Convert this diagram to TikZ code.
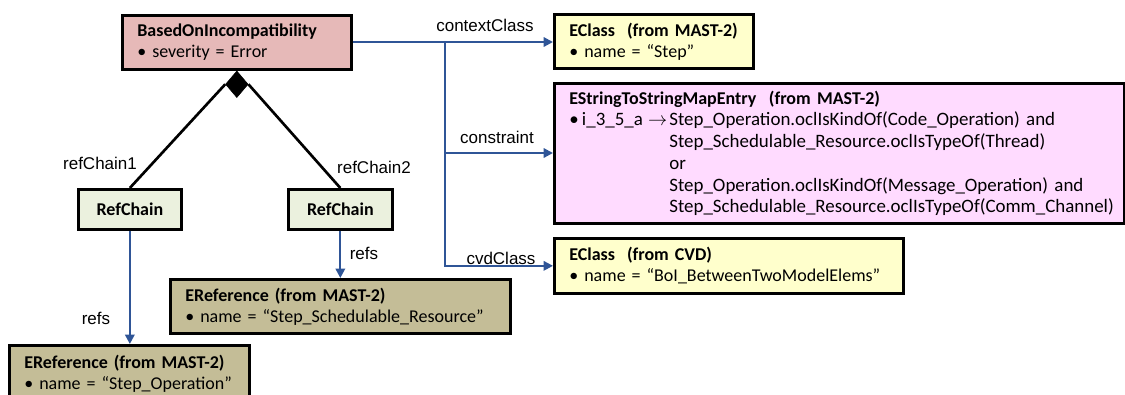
\documentclass[tikz,border=0pt]{standalone}
\usepackage{fontspec}
\setmainfont{Carlito}
\newfontfamily\labelfont{Liberation Sans}
\usetikzlibrary{shapes.geometric,arrows.meta}
\definecolor{boifill}{HTML}{E6B9B8}
\definecolor{ecfill}{HTML}{FFFFCC}
\definecolor{pinkfill}{HTML}{FFDBFF}
\definecolor{rcfill}{HTML}{EBF1DE}
\definecolor{erfill}{HTML}{C4BD97}
\definecolor{assocblue}{HTML}{2F5597}
\tikzset{
  classbox/.style={draw=black, line width=2pt, rectangle, anchor=north west,
    inner xsep=11.25pt, inner ysep=0pt, align=left,
    font=\fontsize{13.5}{15.75}\selectfont},
  chainbox/.style={draw=black, line width=2pt, rectangle, anchor=north west,
    fill=rcfill, inner sep=0pt, minimum height=30pt,
    font=\fontsize{13.5}{15.75}\selectfont\bfseries},
  assoc/.style={draw=assocblue, line width=1.6pt, -{Triangle[length=7pt,width=7pt]}},
  compline/.style={draw=black, line width=2pt},
  lbl/.style={inner sep=0pt, font=\labelfont\fontsize{12.75}{15}\selectfont}
}
\begin{document}
\begin{tikzpicture}[x=0.75pt,y=-0.75pt]
\useasboundingbox (0,0) rectangle (1125,394);
% class boxes
\node[classbox, fill=boifill, text width=149.25pt, minimum height=40.5pt] (boi) at (121,14)
  {\textbf{BasedOnIncompatibility}\\• severity = Error};
\node[classbox, fill=ecfill, text width=126.75pt, minimum height=40.5pt] (ecM) at (553,13)
  {\textbf{EClass\ \ (from MAST-2)}\\• name = “Step”};
\node[classbox, fill=pinkfill, text width=405pt, minimum height=105pt,
      font=\fontsize{14.2}{16.3}\selectfont] (pink) at (553,82)
  {{\fontsize{13.5}{16.3}\selectfont\textbf{EStringToStringMapEntry\ \ (from MAST-2)}}\\
   \makebox[75pt][l]{\makebox[9.5pt][l]{•}i\_3\_5\_a\hfill$\rightarrow$\hspace{1.5pt}}Step\_Operation.oclIsKindOf(Code\_Operation) and\\
   \hspace*{75pt}Step\_Schedulable\_Resource.oclIsTypeOf(Thread)\\
   \hspace*{75pt}or\\
   \hspace*{75pt}Step\_Operation.oclIsKindOf(Message\_Operation) and\\
   \hspace*{75pt}Step\_Schedulable\_Resource.oclIsTypeOf(Comm\_Channel)};
\node[classbox, fill=ecfill, text width=239.25pt, minimum height=41.25pt] (ecC) at (553,237)
  {\textbf{EClass\ \ (from CVD)}\\• name = “BoI\_BetweenTwoModelElems”};
\node[chainbox, minimum width=77.25pt] (rc1) at (77,188) {RefChain};
\node[chainbox, minimum width=78pt] (rc2) at (287,188) {RefChain};
\node[classbox, fill=erfill, text width=232.5pt, minimum height=40.5pt] (er2) at (169,278)
  {\textbf{EReference (from MAST-2)}\\• name = “Step\_Schedulable\_Resource”};
\node[classbox, fill=erfill, text width=157.5pt, minimum height=42.75pt] (er1) at (8,344)
  {\textbf{EReference (from MAST-2)}\\• name = “Step\_Operation”};
% composition
\node[diamond, fill=black, draw=black, inner sep=0pt, minimum width=17pt, minimum height=20pt, anchor=north] (dia) at (boi.south) {};
\draw[compline] (dia.west) -- (rc1.north);
\draw[compline] (dia.east) -- (rc2.north);
\node[lbl] (lrc1) at (100,163) {refChain1};
\node[lbl] (lrc2) at (374,167) {refChain2};
% refs
\draw[assoc] (rc1.south) -- (rc1.south |- er1.north);
\draw[assoc] (rc2.south) -- (rc2.south |- er2.north);
\node[lbl] (lref1) at (96,318) {refs};
\node[lbl] (lref2) at (364,253) {refs};
% associations from BasedOnIncompatibility
\coordinate (j) at (445,42);
\coordinate (cj) at (445,153);
\draw[assoc] (boi.east |- j) -- (j -| ecM.west);
\draw[assoc] (j) |- (ecC.west);
\draw[assoc] (cj) -- (cj -| pink.west);
\node[lbl] (lctx) at (485,25) {contextClass};
\node[lbl] (lcon) at (497,137) {constraint};
\node[lbl] (lcvd) at (501,258) {cvdClass};
\end{tikzpicture}
\end{document}
